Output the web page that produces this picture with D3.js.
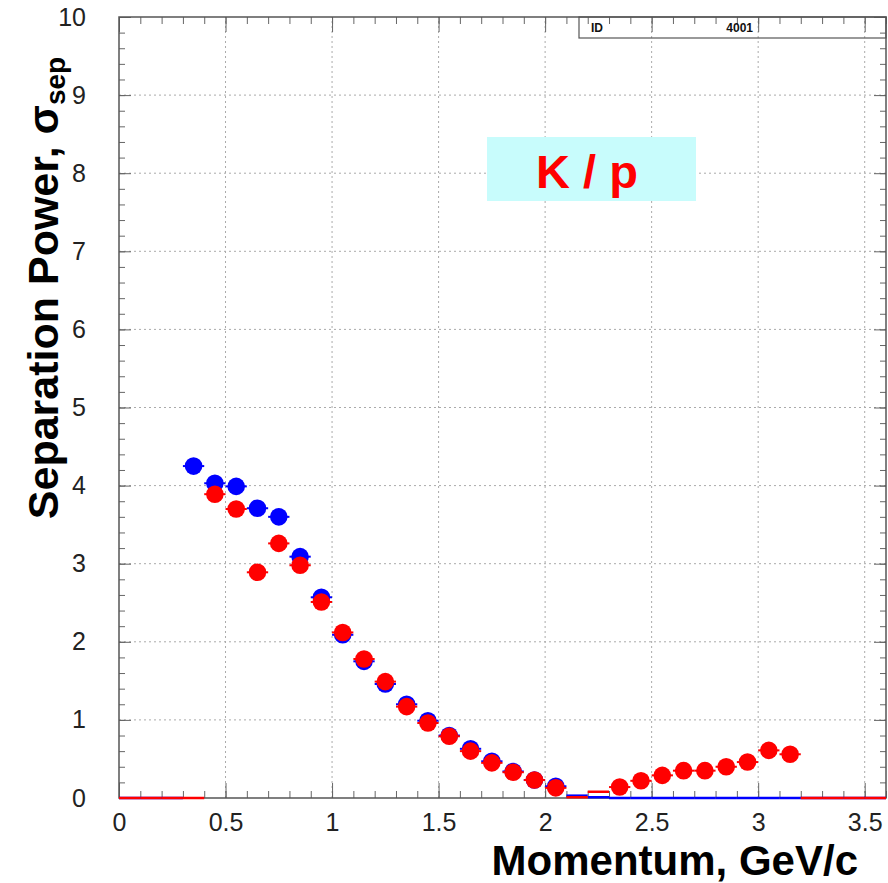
<!DOCTYPE html>
<html lang="en">
<head>
<meta charset="utf-8" />
<title>K / p separation power</title>
<style>
  body { margin: 0; padding: 0; background: #fff; }
  svg text { font-family: 'Liberation Sans', Arial, Helvetica, sans-serif; }
</style>
<script src="https://d3js.org/d3.v7.min.js"></script>
</head>
<body>
<div id="chart"></div>
<script>
// bin centres (GeV/c), bin width 0.1
const momentum = [0.05, 0.15, 0.25, 0.35, 0.45, 0.55, 0.65, 0.75, 0.85, 0.95,
  1.05, 1.15, 1.25, 1.35, 1.45, 1.55, 1.65, 1.75, 1.85, 1.95,
  2.05, 2.15, 2.25, 2.35, 2.45, 2.55, 2.65, 2.75, 2.85, 2.95,
  3.05, 3.15, 3.25, 3.35, 3.45, 3.55];
const sepBlue = [0, 0, 0, 4.25, 4.03, 3.99, 3.71, 3.60, 3.09, 2.57,
  2.09, 1.75, 1.46, 1.20, 0.99, 0.80, 0.63, 0.47, 0.34, 0.23,
  0.15, 0.03, 0.01, 0, 0, 0, 0, 0, 0, 0,
  0, 0, 0, 0, 0, 0];
const sepRed = [0, 0, 0, 0, 3.89, 3.70, 2.89, 3.26, 2.98, 2.51,
  2.12, 1.78, 1.49, 1.17, 0.96, 0.79, 0.60, 0.45, 0.33, 0.23,
  0.13, 0.01, 0.08, 0.14, 0.22, 0.29, 0.35, 0.35, 0.40, 0.46,
  0.61, 0.56, 0, 0, 0, 0];
const xTicks = [0, 0.5, 1, 1.5, 2, 2.5, 3, 3.5];
const yTicks = [0, 1, 2, 3, 4, 5, 6, 7, 8, 9, 10];
const binWidth = 0.1;

const W = 888, H = 883;
const svg = d3.select("#chart").append("svg")
  .attr("width", W).attr("height", H);

const x = d3.scaleLinear().domain([0, 3.6]).range([119, 886]);
const y = d3.scaleLinear().domain([0, 10]).range([798, 17]);

// grid
const grid = svg.append("g").attr("stroke", "#aaa").attr("stroke-dasharray", "2,3").attr("stroke-width", 1);
grid.selectAll(".gx").data(xTicks.slice(1)).enter().append("line")
  .attr("x1", d => x(d)).attr("x2", d => x(d)).attr("y1", y(0)).attr("y2", y(10));
grid.selectAll(".gy").data(yTicks.slice(1, -1)).enter().append("line")
  .attr("x1", x(0)).attr("x2", x(3.6)).attr("y1", d => y(d)).attr("y2", d => y(d));

// ticks (pointing inward) and labels
const minorX = d3.range(0, 3.61, 0.1);
const minorY = d3.range(0, 10.01, 0.2);
function styleAxis(g) {
  g.select(".domain").remove();
  g.selectAll(".tick line").attr("stroke", "#666");
  g.selectAll("text").attr("fill", "#222").style("font-size", "25px");
}
svg.append("g").attr("transform", `translate(0,${y(0)})`)
  .call(d3.axisBottom(x).tickValues(minorX).tickSize(-7).tickFormat("")).call(styleAxis);
svg.append("g").attr("transform", `translate(0,${y(0)})`)
  .call(d3.axisBottom(x).tickValues(xTicks).tickSize(-15).tickPadding(15).tickFormat(d3.format("~g"))).call(styleAxis);
svg.append("g").attr("transform", `translate(0,${y(10)})`)
  .call(d3.axisTop(x).tickValues(minorX).tickSize(-7).tickFormat("")).call(styleAxis);
svg.append("g").attr("transform", `translate(0,${y(10)})`)
  .call(d3.axisTop(x).tickValues(xTicks).tickSize(-15).tickFormat("")).call(styleAxis);
svg.append("g").attr("transform", `translate(${x(0)},0)`)
  .call(d3.axisLeft(y).tickValues(minorY).tickSize(-6).tickFormat("")).call(styleAxis);
svg.append("g").attr("transform", `translate(${x(0)},0)`)
  .call(d3.axisLeft(y).tickValues(yTicks).tickSize(-12).tickPadding(33)).call(styleAxis);
svg.append("g").attr("transform", `translate(${x(3.6)},0)`)
  .call(d3.axisRight(y).tickValues(minorY).tickSize(-6).tickFormat("")).call(styleAxis);
svg.append("g").attr("transform", `translate(${x(3.6)},0)`)
  .call(d3.axisRight(y).tickValues(yTicks).tickSize(-12).tickFormat("")).call(styleAxis);

// frame
svg.append("rect")
  .attr("x", x(0)).attr("y", y(10))
  .attr("width", x(3.6) - x(0)).attr("height", y(0) - y(10))
  .attr("fill", "none").attr("stroke", "#555").attr("stroke-width", 1.5);

// stats box
svg.append("rect").attr("x", 579).attr("y", y(10)).attr("width", x(3.6) - 579).attr("height", 21)
  .attr("fill", "none").attr("stroke", "#555").attr("stroke-width", 1.2);
svg.append("text").attr("x", 591).attr("y", 32).text("ID")
  .style("font-size", "12px").style("font-weight", "bold").attr("fill", "#111");
svg.append("text").attr("x", 753).attr("y", 32).attr("text-anchor", "end").text("4001")
  .style("font-size", "12px").style("font-weight", "bold").attr("fill", "#111");

// series
function drawSeries(values, color) {
  const g = svg.append("g");
  const pts = momentum.map((m, i) => ({ m: m, v: values[i] }));
  const flat = pts.filter(d => d.v < 0.1);
  const marked = pts.filter(d => d.v >= 0.1);
  g.selectAll(".flat").data(flat).enter().append("line")
    .attr("x1", d => x(d.m - binWidth / 2)).attr("x2", d => x(d.m + binWidth / 2))
    .attr("y1", d => y(d.v)).attr("y2", d => y(d.v))
    .attr("stroke", color).attr("stroke-width", 2.5);
  g.selectAll(".err").data(marked).enter().append("line")
    .attr("x1", d => x(d.m - binWidth / 2)).attr("x2", d => x(d.m + binWidth / 2))
    .attr("y1", d => y(d.v)).attr("y2", d => y(d.v))
    .attr("stroke", color).attr("stroke-width", 2);
  g.selectAll("circle").data(marked).enter().append("circle")
    .attr("cx", d => x(d.m)).attr("cy", d => y(d.v)).attr("r", 8.8)
    .attr("fill", color);
}
drawSeries(sepBlue, "#0000ff");
drawSeries(sepRed, "#ff0000");

// K / p label
svg.append("rect").attr("x", 487).attr("y", 137).attr("width", 209).attr("height", 64)
  .attr("fill", "#c8fcfc");
svg.append("text").attr("x", 587).attr("y", 188).attr("text-anchor", "middle")
  .style("font-size", "47px").style("font-weight", "bold").attr("fill", "#ff0000")
  .text("K / p");

// axis titles
svg.append("text").attr("x", 858).attr("y", 875).attr("text-anchor", "end")
  .style("font-size", "42px").style("font-weight", "bold").attr("fill", "#000")
  .text("Momentum, GeV/c");

const yt = svg.append("text")
  .attr("transform", "translate(58,288) rotate(-90)")
  .attr("text-anchor", "middle")
  .style("font-size", "43px").style("font-weight", "bold").attr("fill", "#000");
yt.append("tspan").text("Separation Power, σ");
yt.append("tspan").attr("dy", 7).style("font-size", "28px").text("sep");
</script>
</body>
</html>
